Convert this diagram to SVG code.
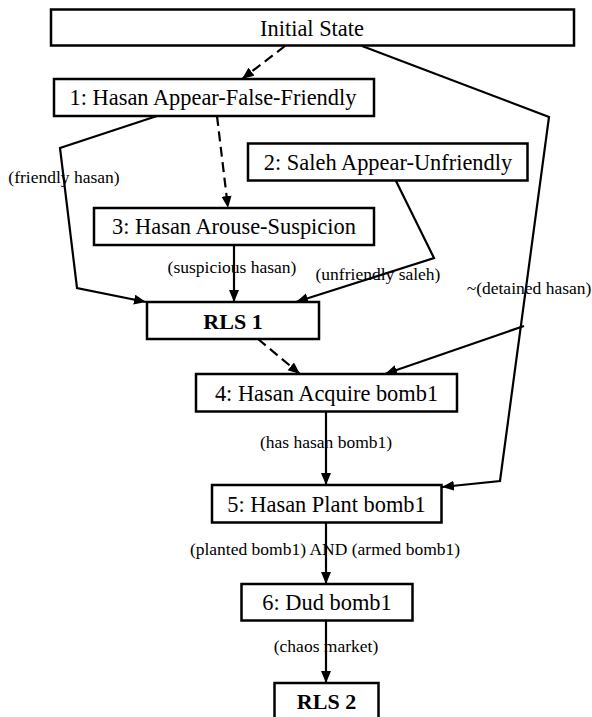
<svg xmlns="http://www.w3.org/2000/svg" width="592" height="717" viewBox="0 0 592 717">
<style>
.box{fill:#fff;stroke:#000;stroke-width:2.5}
.t{font-family:"Liberation Serif","Times New Roman",serif;font-size:22.4px;text-anchor:middle;fill:#000}
.b{font-weight:bold;font-size:22px}
.lbl{font-family:"Liberation Serif","Times New Roman",serif;font-size:17.5px;text-anchor:middle;fill:#000}
.c{fill:none;stroke:#000;stroke-width:2.2;marker-end:url(#ah)}
.d{stroke-dasharray:10 5.5}
</style>
<defs>
<marker id="ah" markerUnits="userSpaceOnUse" markerWidth="13" markerHeight="11" refX="12" refY="5" orient="auto" viewBox="0 0 13 11">
<path d="M0,0 L12,5 L0,10 z" fill="#000"/>
</marker>
</defs>
<g id="connectors">
<path class="c d" d="M285,46 L242,79"/>
<path class="c" d="M362,46 L549,117 L500,481 L442,487"/>
<path class="c" d="M157,116 L60,148 L77,288 L146,302"/>
<path class="c d" d="M217,116 L228,208"/>
<path class="c" d="M396,181 L434,258 L296,302"/>
<path class="c" d="M234,245 L234,302"/>
<path class="c" d="M524,326 L385,374"/>
<path class="c d" d="M258,339 L300,374"/>
<path class="c" d="M326,412 L326,485"/>
<path class="c" d="M326,523 L326,584"/>
<path class="c" d="M326,621 L326,683"/>
</g>
<g id="labels">
<text class="lbl" x="64" y="183">(friendly hasan)</text>
<text class="lbl" x="232" y="273">(suspicious hasan)</text>
<text class="lbl" x="378" y="280">(unfriendly saleh)</text>
<text class="lbl" x="529" y="294">~(detained hasan)</text>
<text class="lbl" x="326" y="448">(has hasan bomb1)</text>
<text class="lbl" x="325" y="555">(planted bomb1) AND (armed bomb1)</text>
<text class="lbl" x="326" y="652">(chaos market)</text>
</g>
<g id="initial"><rect class="box" x="51" y="9.5" width="523" height="36"/><text class="t" x="312" y="36">Initial State</text></g>
<g id="n1"><rect class="box" x="54" y="79" width="320" height="37"/><text class="t" x="213" y="105">1: Hasan Appear-False-Friendly</text></g>
<g id="n2"><rect class="box" x="248" y="143.5" width="279.5" height="37"/><text class="t" x="388" y="170">2: Saleh Appear-Unfriendly</text></g>
<g id="n3"><rect class="box" x="94" y="208" width="280" height="37"/><text class="t" x="234" y="234">3: Hasan Arouse-Suspicion</text></g>
<g id="rls1"><rect class="box" x="147" y="302" width="172" height="37"/><text class="t b" x="233" y="328.5">RLS 1</text></g>
<g id="n4"><rect class="box" x="196" y="374" width="261" height="37.5"/><text class="t" x="326.5" y="400.5">4: Hasan Acquire bomb1</text></g>
<g id="n5"><rect class="box" x="212" y="485" width="229.5" height="37.5"/><text class="t" x="326.5" y="511.5">5: Hasan Plant bomb1</text></g>
<g id="n6"><rect class="box" x="241.5" y="584" width="171" height="36.5"/><text class="t" x="327" y="610">6: Dud bomb1</text></g>
<g id="rls2"><rect class="box" x="274.5" y="683" width="104" height="40"/><text class="t b" x="326.5" y="708.5">RLS 2</text></g>
</svg>
